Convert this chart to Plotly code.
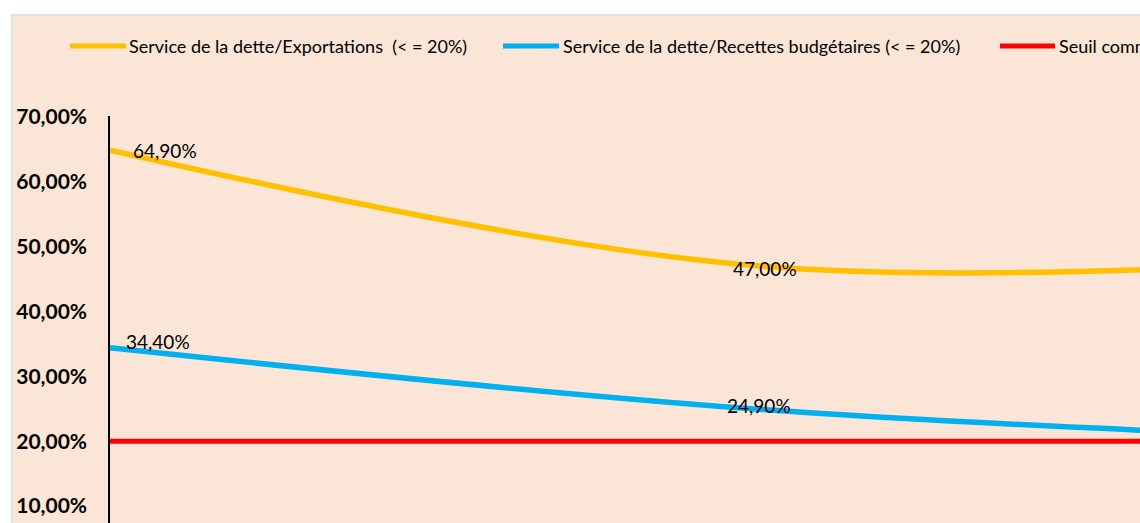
import plotly.graph_objects as go

# ---- data ----
periodes = [0, 1, 2]
service_exportations = [0.649, 0.470, 0.485]
service_recettes = [0.344, 0.249, 0.200]
seuil = [0.20, 0.20, 0.20]
y_ticks = [0.10, 0.20, 0.30, 0.40, 0.50, 0.60, 0.70]
noms = [
    "Service de la dette/Exportations  (< = 20%)",
    "Service de la dette/Recettes budgétaires (< = 20%)",
    "Seuil communautaire (< = 20%)",
]
couleurs = ["#FFC000", "#00B0F0", "#FF0000"]

W, H = 1140, 523
ML, MT = 110, 116
PW, PH = W - ML, H - MT
FONT = "Lato"


def px_x(p):
    return (p - ML) / PW


def px_y(p):
    return (H - p) / PH


fig = go.Figure()
for ys, c in zip([service_exportations, service_recettes], couleurs[:2]):
    fig.add_trace(go.Scatter(x=periodes, y=ys, mode="lines",
                             line=dict(color=c, width=5.5, shape="spline", smoothing=1),
                             showlegend=False, hoverinfo="skip"))
fig.add_trace(go.Scatter(x=periodes, y=seuil, mode="lines",
                         line=dict(color=couleurs[2], width=5),
                         showlegend=False, hoverinfo="skip"))

# data labels
label_shift = [
    (service_exportations, 0, "left", 22, 0),
    (service_exportations, 1, "center", 5, -2),
    (service_recettes, 0, "left", 15, 6),
    (service_recettes, 1, "center", -1, 4),
]
for ys, i, xa, xs, ysft in label_shift:
    fig.add_annotation(x=periodes[i], y=ys[i], xref="x", yref="y",
                       text=f"{ys[i]*100:.2f}%".replace(".", ","),
                       showarrow=False, xanchor=xa, yanchor="middle",
                       xshift=xs, yshift=ysft, borderpad=0,
                       font=dict(family=FONT, size=19, color="#000000"))

# background panel
fig.add_shape(type="rect", xref="paper", yref="paper",
              x0=px_x(12), x1=px_x(W + 50), y0=px_y(H + 50), y1=px_y(15),
              fillcolor="#FBE5D6", line=dict(color="#D9E0EE", width=2),
              layer="below")

# legend (manual)
leg_y = px_y(46)
leg_lines = [(70, 126, 128), (503, 559, 562), (1000, 1055, 1058)]
for (a, b, t), nom, c in zip(leg_lines, noms, couleurs):
    fig.add_shape(type="line", xref="paper", yref="paper",
                  x0=px_x(a), x1=px_x(b), y0=leg_y, y1=leg_y,
                  line=dict(color=c, width=5))
    fig.add_annotation(x=px_x(t), y=leg_y, xref="paper", yref="paper",
                       text=nom, showarrow=False, xanchor="left", yanchor="middle",
                       borderpad=0,
                       font=dict(family=FONT, size=18, color="#000000"))

y_top = 0.70 + 1 / 648.3
y_bot = y_top - PH / 648.3

fig.update_layout(
    width=W, height=H,
    margin=dict(l=ML, r=0, t=MT, b=0, pad=0),
    paper_bgcolor="#FFFFFF",
    plot_bgcolor="rgba(0,0,0,0)",
    separators=", ",
    showlegend=False,
    xaxis=dict(range=[0, (W - ML) / 650], showgrid=False, zeroline=False,
               showticklabels=False, showline=False, fixedrange=True),
    yaxis=dict(range=[y_bot, y_top], tickvals=y_ticks, tickformat=".2%",
               showgrid=False, zeroline=False, showline=True,
               linecolor="#000000", linewidth=1.5, ticks="",
               ticklabelstandoff=17,
               tickfont=dict(family=FONT, size=21, color="#000000", weight="bold"),
               fixedrange=True),
)

fig.write_html(
    "out.html",
    config={"displayModeBar": False},
    post_script="document.body.style.margin='0px';document.body.style.overflow='hidden';",
)
